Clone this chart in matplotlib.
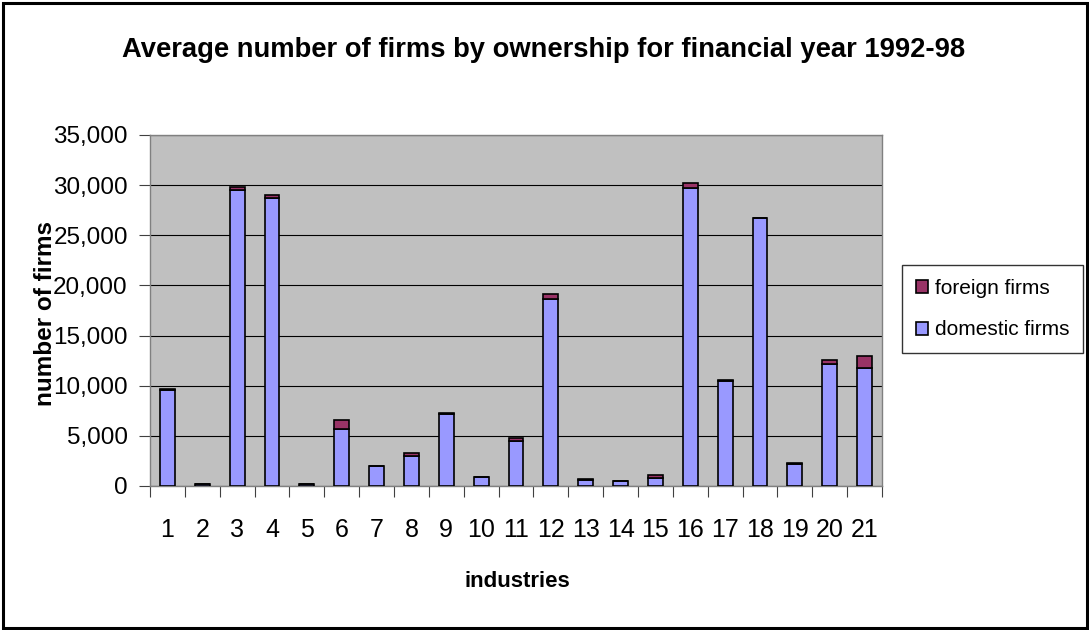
import matplotlib
matplotlib.use("Agg")
import matplotlib.pyplot as plt
from matplotlib.patches import Rectangle
from matplotlib.ticker import FuncFormatter, FixedLocator

plt.rcParams['font.family'] = ['Liberation Sans', 'DejaVu Sans']

industries = list(range(1, 22))
domestic = [9600, 150, 29500, 28700, 150, 5700, 1950, 3000, 7200, 880,
            4500, 18600, 620, 450, 800, 29750, 10500, 26700, 2200, 12150, 11800]
foreign = [80, 90, 300, 300, 90, 900, 50, 330, 70, 50,
           330, 500, 50, 40, 330, 500, 70, 70, 50, 400, 1150]
yticks = [0, 5000, 10000, 15000, 20000, 25000, 30000, 35000]

W, H = 1089, 630
fig = plt.figure(figsize=(W / 100, H / 100), dpi=100)
fig.patch.set_facecolor('white')
fig.add_artist(Rectangle((2.5 / W, 2.5 / H), 1 - 5 / W, 1 - 5 / H, transform=fig.transFigure,
                         fill=False, edgecolor='black', linewidth=2.2))

ax = fig.add_axes([150 / W, 1 - 486 / H, (882 - 150) / W, (486 - 135) / H])
ax.set_facecolor('#C0C0C0')
for s in ax.spines.values():
    s.set_color('#808080')
    s.set_linewidth(1.0)

ax.bar(industries, domestic, width=0.43, color='#9999FF', edgecolor='black',
       linewidth=1.2, label='domestic firms', zorder=3)
ax.bar(industries, foreign, width=0.43, bottom=domestic, color='#993366',
       edgecolor='black', linewidth=1.2, label='foreign firms', zorder=3)

ax.set_xlim(0.5, 21.5)
ax.set_ylim(0, 35000)
ax.set_yticks(yticks)
ax.yaxis.set_major_formatter(FuncFormatter(lambda v, p: f"{int(v):,}"))
ax.yaxis.grid(True, color='black', linewidth=0.8, zorder=0)
ax.set_axisbelow(True)

ax.xaxis.set_major_locator(FixedLocator([x + 0.5 for x in range(0, 22)]))
ax.set_xticklabels([])
ax.set_xticks(industries, minor=True)
ax.set_xticklabels([str(i) for i in industries], minor=True)
ax.tick_params(axis='x', which='major', length=8, width=0.8, color='#404040', direction='out')
ax.tick_params(axis='x', which='minor', length=0, pad=23, labelsize=18)
ax.tick_params(axis='y', length=8, width=0.8, color='#404040', labelsize=17.5, pad=8)

fig.text(517 / W, 1 - 587 / H, 'industries', ha='center', va='baseline',
         fontsize=16, fontweight='bold')
fig.text(46 / W, 1 - 314 / H, 'number of firms', ha='center', va='center',
         rotation=90, fontsize=17.5, fontweight='bold')

fig.text(544 / W, 1 - 57 / H, 'Average number of firms by ownership for financial year 1992-98',
         ha='center', va='baseline', fontsize=19.7, fontweight='bold')

handles, labels = ax.get_legend_handles_labels()
leg = fig.legend(handles[::-1], labels[::-1], loc='upper left',
                 bbox_to_anchor=(902 / W, 1 - 265 / H), frameon=True, fancybox=False,
                 edgecolor='black', fontsize=15, handlelength=0.6, handleheight=0.6,
                 handletextpad=0.35, labelspacing=1.1, borderpad=0.65, borderaxespad=0)
leg.get_frame().set_linewidth(1.0)

fig.savefig('out.png', dpi=100, facecolor='white')
